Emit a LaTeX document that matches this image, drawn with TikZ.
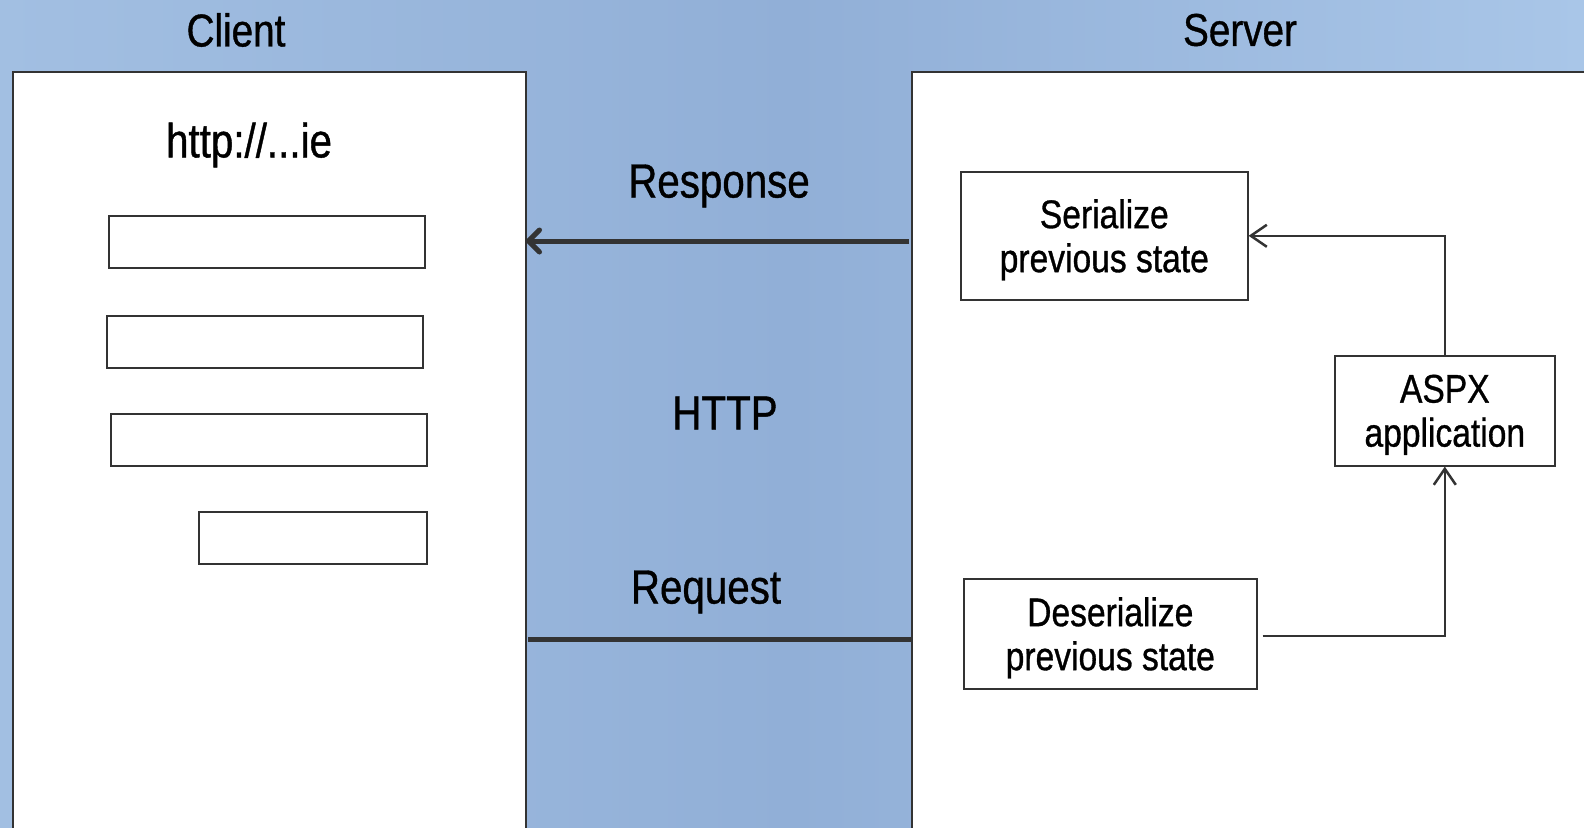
\documentclass[tikz,border=0pt]{standalone}
\usepackage{fontspec}
\setmainfont[FakeStretch=0.84,FakeBold=0.8]{Liberation Sans}
\usetikzlibrary{arrows.meta,calc}
\definecolor{edge}{HTML}{333333}
\definecolor{bgl}{HTML}{A2BFE2}
\definecolor{bgm}{HTML}{91AFD7}
\definecolor{bgr}{HTML}{A9C6E8}
\begin{document}
\begin{tikzpicture}[x=1pt,y=-1pt,
  panel/.style={draw=edge, line width=2pt, fill=white, inner sep=0pt, anchor=north west},
  field/.style={draw=edge, line width=1.6pt, fill=white, inner sep=0pt, anchor=north west, minimum height=52pt},
  stepbox/.style={draw=edge, line width=1.6pt, fill=white, inner sep=0pt, anchor=north west},
  boxtext/.style={align=center, inner sep=0pt, font=\fontsize{40}{44}\selectfont},
  title/.style={font=\fontsize{46}{50}\selectfont, inner sep=0pt},
  label/.style={font=\fontsize{48}{52}\selectfont, inner sep=0pt},
  msg/.style={draw=edge, line width=5pt},
  flow/.style={draw=edge, line width=2.5pt, -{Straight Barb[length=16pt,width=22pt,line width=2.5pt]}}
]
\useasboundingbox (0,0) rectangle (1584,827);
\clip (0,0) rectangle (1584,827);
\shade[left color=bgl, right color=bgr, middle color=bgm] (0,0) rectangle (1584,827);

% panels
\node[panel, minimum width=513pt, minimum height=800pt] (client) at (12,71) {};
\node[panel, minimum width=700pt, minimum height=800pt] (server) at (911,71) {};

\node[title] (clientT) at (236,30) {Client};
\node[title] (serverT) at (1240,30) {Server};

% client contents
\node[label] (url) at (249,145) {http://...ie};
\node[field, minimum width=316pt] (f1) at (108,215) {};
\node[field, minimum width=316pt] (f2) at (106,315) {};
\node[field, minimum width=316pt] (f3) at (110,413) {};
\node[field, minimum width=228pt] (f4) at (198,511) {};

% middle
\node[label] (resp) at (719,186) {Response};
\node[label] (http) at (725,413) {HTTP};
\node[label] (req) at (706,592) {Request};

\coordinate (respS) at (909,241);
\coordinate (respE) at (526,241);
\draw[msg, -{Straight Barb[length=11pt,width=22pt,line width=5pt,round]}] (respS) -- (respE);
\coordinate (reqS) at (528,639);
\coordinate (reqE) at (911,639);
\draw[msg] (reqS) -- (reqE);

% server contents
\node[stepbox, minimum width=287pt, minimum height=128pt] (ser) at (960,171) {};
\node[stepbox, minimum width=220pt, minimum height=110pt] (aspx) at (1334,355) {};
\node[stepbox, minimum width=293pt, minimum height=110pt] (des) at (963,578) {};
\node[boxtext] (serT) at ($(ser.center)+(0,4)$) {Serialize\\previous state};
\node[boxtext] (aspxT) at ($(aspx.center)+(0,4)$) {ASPX\\application};
\node[boxtext] (desT) at ($(des.center)+(0,4)$) {Deserialize\\previous state};

\coordinate (desOut) at ($(des.east)+(5,2)$);
\draw[flow] (desOut) -| (aspx.south);
\draw[flow] (aspx.north) |- (ser.east);
\end{tikzpicture}
\end{document}
